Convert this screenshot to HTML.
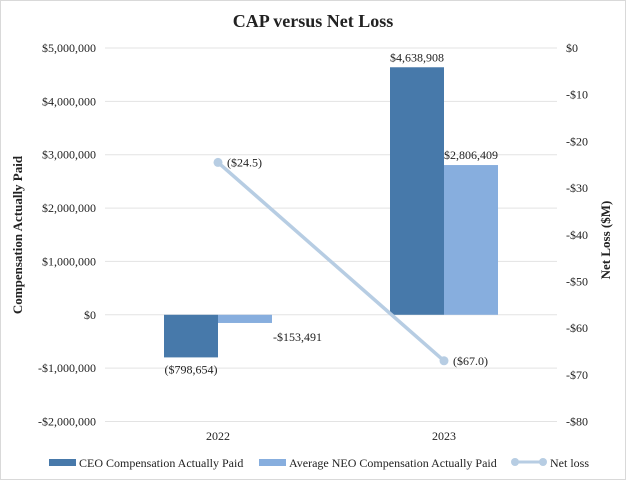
<!DOCTYPE html>
<html><head><meta charset="utf-8"><style>
html,body{margin:0;padding:0;background:#fff}
svg{display:block;font-family:"Liberation Serif",serif}
</style></head><body>
<svg id="chart" width="626" height="480">
<rect x="0.5" y="0.5" width="625" height="479" fill="#fff" stroke="#d9d9d9"/>
<text x="313" y="27" text-anchor="middle" font-size="18" font-weight="bold" fill="#222">CAP versus Net Loss</text>
<text transform="translate(22,235) rotate(-90)" text-anchor="middle" font-size="13" font-weight="bold" fill="#222">Compensation Actually Paid</text>
<text transform="translate(610,240) rotate(-90)" text-anchor="middle" font-size="13" font-weight="bold" fill="#222">Net Loss ($M)</text>
<g id="grid"></g><g id="bars"></g><g id="line"></g><g id="labels"></g>
<g>
<rect x="49" y="459" width="27" height="7" fill="#4779aa"/>
<text x="79" y="467" font-size="12" fill="#222">CEO Compensation Actually Paid</text>
<rect x="259" y="459" width="27" height="7" fill="#87aede"/>
<text x="289" y="467" font-size="12" fill="#222">Average NEO Compensation Actually Paid</text>
<line x1="515" y1="462" x2="543" y2="462" stroke="#b7cde3" stroke-width="3"/>
<circle cx="515" cy="462" r="4" fill="#b7cde3"/>
<circle cx="543" cy="462" r="4" fill="#b7cde3"/>
<text x="550" y="467" font-size="12" fill="#222">Net loss</text>
</g>
</svg>
<script>
const categories=["2022","2023"];
const ceoValues=[-798654,4638908];
const neoValues=[-153491,2806409];
const netLoss=[-24.5,-67.0];
const ceoLabels=["($798,654)","$4,638,908"];
const neoLabels=["-$153,491","$2,806,409"];
const netLabels=["($24.5)","($67.0)"];
const leftTicks=[5000000,4000000,3000000,2000000,1000000,0,-1000000,-2000000];
const leftTickLabels=["$5,000,000","$4,000,000","$3,000,000","$2,000,000","$1,000,000","$0","-$1,000,000","-$2,000,000"];
const rightTicks=[0,-10,-20,-30,-40,-50,-60,-70,-80];
const rightTickLabels=["$0","-$10","-$20","-$30","-$40","-$50","-$60","-$70","-$80"];

const NS="http://www.w3.org/2000/svg";
const X0=105,X1=557,YT=48,YB=421.5;
const yL=v=>YB-(v+2000000)/7000000*(YB-YT);
const yR=v=>YT+(-v)/80*(YB-YT);
const band=(X1-X0)/categories.length;
const xC=i=>X0+band*(i+0.5);
const BW=54;
function mk(tag,attrs,parent,text){const e=document.createElementNS(NS,tag);for(const k in attrs)e.setAttribute(k,attrs[k]);if(text!==undefined)e.textContent=text;document.getElementById(parent).appendChild(e);return e;}
leftTicks.forEach((t,i)=>{
  const g=mk('line',{x1:X0,x2:X1,y1:yL(t),y2:yL(t),stroke:'#e3e3e3','stroke-width':1},'grid');
  
  
  const l=mk('text',{x:96,y:yL(t)+4,'text-anchor':'end','font-size':12,fill:'#222'},'grid',leftTickLabels[i]);
  
  
});
rightTicks.forEach((t,i)=>{
  const l=mk('text',{x:566,y:yR(t)+4,'font-size':12,fill:'#222'},'grid',rightTickLabels[i]);
  
  
});
categories.forEach((c,i)=>{
  const l=mk('text',{x:xC(i),y:440,'text-anchor':'middle','font-size':12,fill:'#222'},'grid',c);
  
  
  const cv=ceoValues[i],nv=neoValues[i];
  const b1=mk('rect',{x:xC(i)-BW,width:BW,y:Math.min(yL(cv),yL(0)),height:Math.abs(yL(cv)-yL(0)),fill:'#4779aa'},'bars');
  
  
  const b2=mk('rect',{x:xC(i),width:BW,y:Math.min(yL(nv),yL(0)),height:Math.abs(yL(nv)-yL(0)),fill:'#87aede'},'bars');
  
  
  const l1=mk('text',{x:xC(i)-BW/2,y:cv>=0?yL(cv)-6:yL(cv)+16,'text-anchor':'middle','font-size':12,fill:'#222'},'labels',ceoLabels[i]);
  
  
  const l2=mk('text',{x:nv>=0?xC(i)+BW/2:xC(i)+BW+1,y:nv>=0?yL(nv)-6:yL(nv)+18,'text-anchor':nv>=0?'middle':'start','font-size':12,fill:'#222'},'labels',neoLabels[i]);
  
  
});
const pl=mk('polyline',{points:netLoss.map((v,i)=>xC(i)+','+yR(v)).join(' '),fill:'none',stroke:'#b7cde3','stroke-width':3.5},'line');


netLoss.forEach((v,i)=>{
  const c=mk('circle',{cx:xC(i),cy:yR(v),r:4.5,fill:'#b7cde3'},'line');
  
  
  const l=mk('text',{x:xC(i)+9,y:yR(v)+4,'font-size':12,fill:'#222'},'labels',netLabels[i]);
  
  
});
</script>
</body></html>
